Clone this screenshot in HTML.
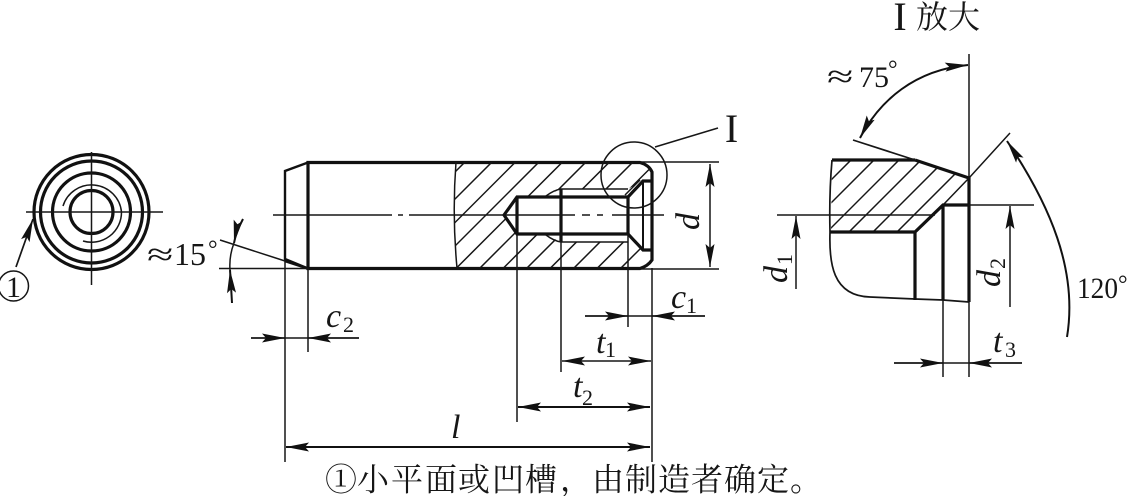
<!DOCTYPE html>
<html><head><meta charset="utf-8"><style>
html,body{margin:0;padding:0;background:#fff}
svg{display:block}
text{font-family:"Liberation Serif","Noto Serif CJK SC",serif;fill:#161616}
.i{font-style:italic;font-size:34px}
.s{font-size:22px}
.n{font-size:32px}
.t{fill:none;stroke:#161616;stroke-width:1.5}
.k{fill:none;stroke:#111;stroke-width:3.2}
.m{fill:none;stroke:#111;stroke-width:2}
</style></head><body>
<svg width="1130" height="496" viewBox="0 0 1130 496" xmlns="http://www.w3.org/2000/svg">
<defs>
<marker id="a" markerUnits="userSpaceOnUse" markerWidth="26" markerHeight="10" viewBox="0 0 26 10" refX="25" refY="5" orient="auto-start-reverse"><path d="M25,5 L2,0.5 L6,5 L2,9.5Z" fill="#111"/></marker>
<clipPath id="c1"><path d="M456,162 L640,162 Q649,165 652,172 L652,181 L643,181 L628,189 L560,189 L546,197 L517,197 L504,215 L517,234 L546,234 L560,242 L628,242 L643,250 L652,250 L652,260 Q648,266 640,268 L457,268 Q452,215 456,162Z"/></clipPath>
<clipPath id="c2"><path d="M832,160 L915,160 L969,178 L943,205 L915,232 L831,232Z"/></clipPath>
</defs>

<!-- end view -->
<g class="k">
<circle cx="91.5" cy="212" r="57.5"/><circle cx="91.5" cy="212" r="51"/><circle cx="91.5" cy="212" r="39"/><circle cx="91.5" cy="212" r="21.5"/>
</g>
<path class="t" d="M63,206 A30,30 0 0 1 121.5,212 A30,30 0 0 1 83,241"/>
<path class="t" d="M26,212 H163 M91.5,152 V285"/>
<path class="t" style="stroke-width:1.7" d="M16,267 L33,219" marker-end="url(#a)"/>
<circle class="t" cx="13.5" cy="286" r="15"/>
<text x="13.5" y="297" text-anchor="middle" style="font-size:30px">1</text>

<!-- pin outline -->
<path class="k" d="M308,162.5 H640 Q649,165 652,172 V260 Q648,266 640,268.5 H308 Z"/>
<path class="k" style="stroke-width:2.4" d="M308,162.5 L285,171 V259 L308,268.5"/>
<path class="t" d="M456,162 Q452,215 457,268"/>

<!-- hatch -->
<g clip-path="url(#c1)" class="t">
<path d="M627,0 L327,300 M654,0 L354,300 M677.5,0 L377.5,300 M701,0 L401,300 M724.5,0 L424.5,300 M748,0 L448,300 M771.5,0 L471.5,300 M795,0 L495,300 M818.5,0 L518.5,300 M842,0 L542,300 M865.5,0 L565.5,300 M889,0 L589,300 M912.5,0 L612.5,300 M936,0 L636,300"/>
</g>

<!-- hole -->
<path class="k" d="M504,215 L517,197 H628 V234 H517 Z"/>
<path class="k" d="M517,197 V234"/>
<path class="k" d="M561,189 V242"/>
<path class="k" d="M628,197 L643,181 H652 M628,234 L643,250 H652"/>
<path class="m" d="M643,181 V250"/>
<path class="t" d="M546,196 Q554,190 561,189 H628 M546,235 Q554,241 561,242 H628"/>
<path class="t" d="M625,195 L640,180"/>

<!-- centre line -->
<path class="t" d="M273,215 H392 M398,215 H403 M409,215 H575 M582,215 H590 M597,215 H603 M612,215 H664"/>

<!-- detail circle and leader -->
<circle class="t" cx="634" cy="175" r="33"/>
<path class="t" d="M655,147 L718,128"/>
<text x="731.5" y="142" text-anchor="middle" style="font-size:40px">I</text>

<!-- d dimension -->
<path class="t" d="M640,162 H719 M640,269 H719"/>
<path class="t" d="M710,164 V267" marker-start="url(#a)" marker-end="url(#a)"/>
<text class="i" transform="translate(699,230) rotate(-90)">d</text>

<!-- extensions -->
<path class="t" d="M517,234 V422 M561,242 V372 M628,234 V327 M652,268 V462 M285,260 V462 M308,268 V352"/>

<!-- dims -->
<path class="t" d="M251,338 H359"/>
<path class="t" d="M251,338 H285" marker-end="url(#a)"/>
<path class="t" d="M359,338 H308" marker-end="url(#a)"/>
<path class="t" d="M585,316 H705"/>
<path class="t" d="M585,316 H628" marker-end="url(#a)"/>
<path class="t" d="M705,316 H652" marker-end="url(#a)"/>
<path class="t" d="M562,361 H651" marker-start="url(#a)" marker-end="url(#a)"/>
<path class="m" d="M518,407 H650" marker-start="url(#a)" marker-end="url(#a)"/>
<path class="m" d="M286,447 H650" marker-start="url(#a)" marker-end="url(#a)"/>

<text class="i" x="326" y="327">c</text><text class="s" x="343" y="332">2</text>
<text class="i" x="671" y="308">c</text><text class="s" x="686" y="313">1</text>
<text class="i" x="596" y="353">t</text><text class="s" x="605" y="357">1</text>
<text class="i" x="573" y="397">t</text><text class="s" x="582" y="405">2</text>
<text class="i" x="451" y="438">l</text>

<!-- 15 deg -->
<path class="t" d="M220,240 L285,261"/>
<path class="k" style="stroke-width:2.6" d="M285,261 L308,268.5"/>
<path class="t" d="M219,268.5 H308"/>
<path class="m" d="M243,219 Q236,232 234,243" marker-end="url(#a)"/>
<path class="m" d="M232,303 Q231,285 230,270" marker-end="url(#a)"/>
<path class="t" d="M234,243 Q229,256 230,270"/>
<text transform="translate(147,265) scale(1.5,1)" style="font-size:32px">≈</text>
<text class="n" x="174" y="265">15</text>
<text x="208" y="257" style="font-size:24px">°</text>

<!-- enlarged title -->
<text x="900" y="30" text-anchor="middle" style="font-size:40px">I</text>
<text x="916" y="28" style="font-size:32px">放大</text>

<!-- detail view -->
<g clip-path="url(#c2)" class="t">
<path d="M1011,0 L711,300 M1034,0 L734,300 M1059,0 L759,300 M1081,0 L781,300 M1105,0 L805,300 M1129,0 L829,300"/>
</g>
<path class="k" d="M832,160 H915"/>
<path class="t" style="stroke-width:1.7" d="M853,140 L915,160"/>
<path class="k" d="M915,160 L969,178 V302"/>
<path class="t" d="M969,54 V178 M969,302 V377 M943,300 V377 M969,178 L1010,133 M969,178 L943,205"/>
<path class="t" style="stroke-width:1.7" d="M832,160 Q829,195 830,232 C829,262 832,296 870,297 L915,299 L943,300 L969,302"/>
<path class="k" d="M830,232 H915 L943,205 H969 M915,232 V300 M943,205 V300"/>
<path class="t" d="M777,215 H935 M969,205 H1034"/>
<path class="t" d="M796,289 V216" marker-end="url(#a)"/>
<path class="t" d="M1010,307 V206" marker-end="url(#a)"/>
<path class="t" d="M894,363 H1022"/>
<path class="t" d="M894,363 H943" marker-end="url(#a)"/>
<path class="t" d="M1022,363 H969" marker-end="url(#a)"/>
<path class="m" d="M968,65 C915,70 880,100 860,138" marker-start="url(#a)" marker-end="url(#a)"/>
<path class="m" d="M1067,337 C1078,270 1050,205 1007,141" marker-end="url(#a)"/>
<text transform="translate(827,87) scale(1.5,1)" style="font-size:32px">≈</text>
<text x="859" y="87" style="font-size:30px">75</text>
<text x="888" y="77" style="font-size:24px">°</text>
<text x="1077" y="298" style="font-size:30px" textLength="41" lengthAdjust="spacingAndGlyphs">120</text>
<text x="1118" y="292" style="font-size:24px">°</text>
<text class="i" transform="translate(787,283) rotate(-90)">d</text>
<text class="s" transform="translate(792,265) rotate(-90)">1</text>
<text class="i" transform="translate(1000,287) rotate(-90)">d</text>
<text class="s" transform="translate(1005,269) rotate(-90)">2</text>
<text class="i" x="993" y="352">t</text><text class="s" x="1005" y="357">3</text>

<!-- footnote -->
<text y="490.5" x="325 357 391 425 458 492 525 560 592 625 658 691 724 757 790" style="font-size:32px">①小平面或凹槽，由制造者确定。</text>
</svg>
</body></html>
